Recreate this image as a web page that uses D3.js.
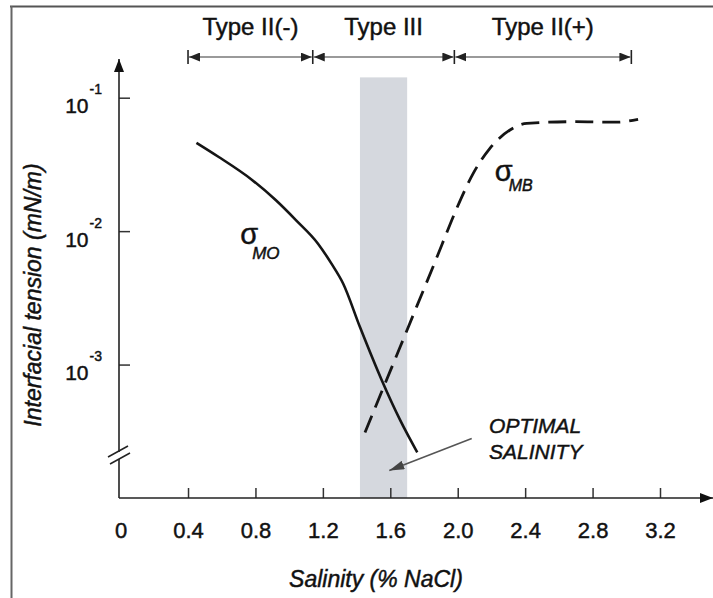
<!DOCTYPE html>
<html>
<head>
<meta charset="utf-8">
<script src="https://cdn.jsdelivr.net/npm/d3@7"></script>
<style>
  html, body { margin: 0; padding: 0; background: #fff; }
  svg { display: block; }
  text { font-family: "Liberation Sans", Arial, Helvetica, sans-serif; fill: #111; stroke: #111; stroke-width: 0.45px; }
</style>
</head>
<body>
<script>
// Salinity ticks (% NaCl) and their printed labels
const salinityTicks = [0, 0.4, 0.8, 1.2, 1.6, 2.0, 2.4, 2.8, 3.2];
const salinityTickLabels = ["0", "0.4", "0.8", "1.2", "1.6", "2.0", "2.4", "2.8", "3.2"];

// Interfacial tension decades (mN/m) and exponent labels
const tensionTicks = [1e-1, 1e-2, 1e-3];
const tensionExponents = ["-1", "-2", "-3"];

// Microemulsion / oil interfacial tension (solid curve)
const salinityMO = [0.45, 0.58, 0.78, 0.92, 1.04, 1.17, 1.25, 1.32, 1.42, 1.55, 1.66, 1.76];
const tensionMO  = [0.0459, 0.0361, 0.0242, 0.0171, 0.0121, 0.00809, 0.00573, 0.00405, 0.00191, 0.00076, 0.00038, 0.00022];

// Microemulsion / brine interfacial tension (dashed curve)
const salinityMB = [1.45, 1.55, 1.66, 1.76, 1.85, 1.905, 1.994, 2.092, 2.191, 2.31, 2.41, 2.69, 2.94, 3.07];
const tensionMB  = [0.000310, 0.000631, 0.00137, 0.00279, 0.00527, 0.00785, 0.0148, 0.0271, 0.0417, 0.0573, 0.0643, 0.0661, 0.0655, 0.0689];

// Phase behaviour regions along the salinity axis
const phaseNames  = ["Type II(-)", "Type III", "Type II(+)"];
const phaseBounds = [0.40, 1.14, 1.98, 3.03];

// Optimal salinity window
const optimalRange = [1.42, 1.70];
const optimalTop = 0.142;

const width = 713, height = 598;
const svg = d3.select("body").append("svg")
  .attr("width", width).attr("height", height);

const defs = svg.append("defs");
function triMarker(id, color, w, h) {
  defs.append("marker")
    .attr("id", id)
    .attr("viewBox", `0 0 ${w} ${h}`)
    .attr("refX", w).attr("refY", h / 2)
    .attr("markerWidth", w).attr("markerHeight", h)
    .attr("markerUnits", "userSpaceOnUse")
    .attr("orient", "auto-start-reverse")
    .append("path")
    .attr("d", `M0,0L${w},${h / 2}L0,${h}Z`)
    .attr("fill", color);
}
triMarker("axisArrow", "#111", 13, 10);
triMarker("rangeArrow", "#222", 11, 9);
triMarker("noteArrow", "#444", 15, 9);

// Scales
const x = d3.scaleLinear().domain([0, 3.2]).range([120.6, 660]);
const y = d3.scaleLog().domain([1e-4, 1e-1]).range([498, 97.7]);
const x0 = 119, yBase = y(1e-4);

// Frame around the figure
svg.append("line").attr("x1", 10).attr("x2", width).attr("y1", 6.5).attr("y2", 6.5)
  .attr("stroke", "#555").attr("stroke-width", 2);
svg.append("line").attr("x1", 11.5).attr("x2", 11.5).attr("y1", 6).attr("y2", height)
  .attr("stroke", "#666").attr("stroke-width", 2);

// Optimal salinity band
svg.append("rect")
  .attr("x", x(optimalRange[0]))
  .attr("y", y(optimalTop))
  .attr("width", x(optimalRange[1]) - x(optimalRange[0]))
  .attr("height", yBase - y(optimalTop))
  .attr("fill", "#d5d8de");

// X axis
const xAxis = d3.axisBottom(x)
  .tickValues(salinityTicks)
  .tickFormat((d, i) => salinityTickLabels[i])
  .tickSizeInner(-10).tickSizeOuter(0).tickPadding(24);
const gx = svg.append("g").attr("transform", `translate(0,${yBase})`).call(xAxis);
gx.select(".domain").remove();
gx.selectAll(".tick line").attr("stroke", "#333").attr("stroke-width", 1.5)
  .filter(d => d === 0).remove();
gx.selectAll(".tick text").attr("font-size", 22).attr("fill", "#111")
  .attr("font-family", "Liberation Sans, Arial, sans-serif");
svg.append("line")
  .attr("x1", x0).attr("x2", width).attr("y1", yBase).attr("y2", yBase)
  .attr("stroke", "#222").attr("stroke-width", 1.6)
  .attr("marker-end", "url(#axisArrow)");

// Y axis (log scale, broken near the origin)
const yAxis = d3.axisLeft(y)
  .tickValues(tensionTicks)
  .tickSizeInner(-11).tickSizeOuter(0).tickPadding(17);
const gy = svg.append("g").attr("transform", `translate(${x0},0)`).call(yAxis);
gy.select(".domain").remove();
gy.selectAll(".tick line").attr("stroke", "#333").attr("stroke-width", 1.5);
gy.selectAll(".tick text").each(function (d, i) {
  const t = d3.select(this);
  t.text(null).attr("dy", null).attr("y", 15).attr("font-family", "Liberation Sans, Arial, sans-serif");
  t.append("tspan").attr("font-size", 21).text("10");
  t.append("tspan").attr("font-size", 14).attr("dy", -19).attr("dx", 1).text(tensionExponents[i]);
});
svg.append("line")
  .attr("x1", x0).attr("x2", x0).attr("y1", y(1e-4) - 46).attr("y2", 59)
  .attr("stroke", "#222").attr("stroke-width", 1.6)
  .attr("marker-end", "url(#axisArrow)");
svg.append("line")
  .attr("x1", x0).attr("x2", x0).attr("y1", yBase).attr("y2", yBase - 39)
  .attr("stroke", "#222").attr("stroke-width", 1.6);
// axis break marks
[[0, 0], [2, 7]].forEach(([dx, dy]) => {
  svg.append("line")
    .attr("x1", x0 - 11 + dx).attr("y1", yBase - 41 + dy)
    .attr("x2", x0 + 9 + dx).attr("y2", yBase - 52 + dy)
    .attr("stroke", "#222").attr("stroke-width", 1.5);
});

// Curves
const line = d3.line()
  .x(d => x(d[0])).y(d => y(d[1]))
  .curve(d3.curveMonotoneX);

svg.append("path")
  .attr("d", line(d3.zip(salinityMO, tensionMO)))
  .attr("fill", "none").attr("stroke", "#151515").attr("stroke-width", 2.6);

svg.append("path")
  .attr("d", line(d3.zip(salinityMB, tensionMB)))
  .attr("fill", "none").attr("stroke", "#151515").attr("stroke-width", 2.8)
  .attr("stroke-dasharray", "18,9");

// Curve labels
function sigmaLabel(sx, sy, sub, subDx, subDy, subSize) {
  const t = svg.append("text").attr("x", x(sx)).attr("y", y(sy));
  t.append("tspan").attr("font-size", 29).text("σ");
  t.append("tspan").attr("font-size", subSize).attr("font-style", "italic")
    .attr("dx", subDx).attr("dy", subDy).text(sub);
}
sigmaLabel(0.71, 0.0080, "MO", -6, 15, 17);
sigmaLabel(2.22, 0.0236, "MB", -4, 10, 16);

// Phase behaviour ranges across the top
const rangeY = 57;
phaseNames.forEach((name, i) => {
  const a = x(phaseBounds[i]), b = x(phaseBounds[i + 1]);
  svg.append("line")
    .attr("x1", a + 1).attr("x2", b - 1).attr("y1", rangeY).attr("y2", rangeY)
    .attr("stroke", "#9a9a9a").attr("stroke-width", 2)
    .attr("marker-start", "url(#rangeArrow)")
    .attr("marker-end", "url(#rangeArrow)");
  svg.append("text")
    .attr("x", (a + b) / 2).attr("y", 35)
    .attr("text-anchor", "middle").attr("font-size", 24)
    .text(name);
});
phaseBounds.forEach(v => {
  svg.append("line")
    .attr("x1", x(v)).attr("x2", x(v)).attr("y1", rangeY - 7).attr("y2", rangeY + 7)
    .attr("stroke", "#222").attr("stroke-width", 1.6);
});

// Optimal salinity note
svg.append("line")
  .attr("x1", x(2.083)).attr("y1", y(2.79e-4))
  .attr("x2", x(1.594)).attr("y2", y(1.61e-4))
  .attr("stroke", "#555").attr("stroke-width", 1.6)
  .attr("marker-end", "url(#noteArrow)");
const note = svg.append("text").attr("font-size", 21).attr("font-style", "italic");
note.append("tspan").attr("x", x(2.186)).attr("y", 432.7).text("OPTIMAL");
note.append("tspan").attr("x", x(2.186)).attr("y", 459.3).text("SALINITY");

// Axis titles
svg.append("text")
  .attr("x", 376).attr("y", 587)
  .attr("text-anchor", "middle").attr("font-size", 23).attr("font-style", "italic")
  .text("Salinity (% NaCl)");
svg.append("text")
  .attr("transform", "translate(41,295) rotate(-90)")
  .attr("text-anchor", "middle").attr("font-size", 23).attr("font-style", "italic")
  .text("Interfacial tension (mN/m)");
</script>
</body>
</html>
